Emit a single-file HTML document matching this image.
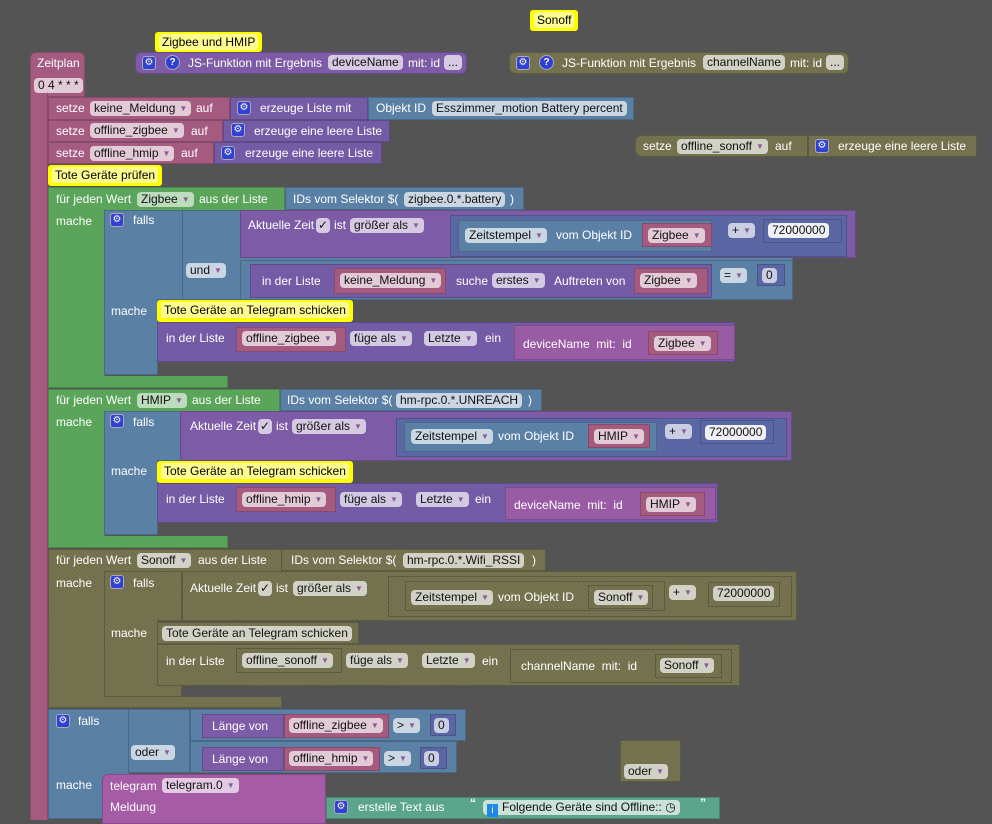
<!DOCTYPE html>
<html><head><meta charset="utf-8">
<style>
body{margin:0;width:992px;height:814px;background:#545454;position:relative;overflow:hidden;font-family:"Liberation Sans",sans-serif}
.b{position:absolute;box-sizing:border-box;border:1px solid rgba(0,0,0,.18)}
.pk{background:#a55b80}.pu{background:#745ba5}.bl{background:#5b80a5}.gr{background:#5ba55b}
.cp{background:#7e5ba6}.mb{background:#5b67a5}.js{background:#9a5ba5}.tg{background:#a55ba5}.te{background:#5ba58c}
.o{background:repeating-linear-gradient(45deg,#6d6c4d 0 1px,#77754f 1px 3px);border:1px solid #5c5b42}
.y{position:absolute;background:#ffff00;border-radius:3px;padding:0 4px;font:12px/20px "Liberation Sans",sans-serif;color:#000;white-space:nowrap}
.y span{background:#fbfb90;padding:1px 3px;border-radius:3px}
.t{position:absolute;color:#fff;font:12px/16px "Liberation Sans",sans-serif;white-space:nowrap}
.p{position:absolute;background:rgba(255,255,255,.68);color:#111;border-radius:4px;font:12px/15px "Liberation Sans",sans-serif;height:15px;padding:0 4px;white-space:nowrap}
.p i{font-style:normal;font-size:8px;color:#8a5a9a;margin-left:4px;vertical-align:1px}
.g{position:absolute;width:14px;height:14px;background:#3040d0;border:1px solid #aab;border-radius:3px;box-sizing:border-box;color:#fff;font:10px/12px "DejaVu Sans",sans-serif;text-align:center}
.q{position:absolute;width:15px;height:15px;background:#3040d0;border:1px solid #aab;border-radius:50%;box-sizing:border-box;color:#fff;font:bold 10px/13px "Liberation Sans",sans-serif;text-align:center}
</style></head><body>

<div class="y" style="left:530px;top:10px;height:21px"><span>Sonoff</span></div>
<div class="y" style="left:155px;top:32px;height:20px"><span>Zigbee und HMIP</span></div>

<div class="b cp" style="left:135px;top:52px;width:332px;height:22px;border-radius:6px"></div>
<div class="g" style="left:142px;top:56px">⚙</div><div class="q" style="left:165px;top:55px">?</div>
<div class="t" style="left:188px;top:55px">JS-Funktion mit Ergebnis</div>
<div class="p" style="left:328px;top:55px">deviceName</div>
<div class="t" style="left:408px;top:55px">mit: id</div>
<div class="p" style="left:444px;top:55px">...</div>

<div class="b o" style="left:509px;top:52px;width:340px;height:22px;border-radius:6px"></div>
<div class="g" style="left:516px;top:56px">⚙</div><div class="q" style="left:539px;top:55px">?</div>
<div class="t" style="left:562px;top:55px">JS-Funktion mit Ergebnis</div>
<div class="p" style="left:703px;top:55px">channelName</div>
<div class="t" style="left:790px;top:55px">mit: id</div>
<div class="p" style="left:826px;top:55px">...</div>

<div class="b pk" style="left:30px;top:52px;width:55px;height:45px;border-radius:6px 6px 0 0"></div>
<div class="b pk" style="left:30px;top:90px;width:18px;height:730px;border-width:0 1px"></div>
<div class="t" style="left:37px;top:55px">Zeitplan</div>
<div class="p" style="left:34px;top:78px">0 4 * * *</div>

<div class="b pk" style="left:48px;top:97px;width:182px;height:23px"></div>
<div class="t" style="left:56px;top:100px">setze</div>
<div class="p" style="left:90px;top:101px">keine_Meldung<i>▼</i></div>
<div class="t" style="left:196px;top:100px">auf</div>
<div class="b pu" style="left:230px;top:97px;width:138px;height:23px"></div>
<div class="g" style="left:237px;top:101px">⚙</div>
<div class="t" style="left:260px;top:100px">erzeuge Liste mit</div>
<div class="b bl" style="left:368px;top:97px;width:266px;height:23px"></div>
<div class="t" style="left:376px;top:100px">Objekt ID</div>
<div class="p" style="left:432px;top:101px">Esszimmer_motion Battery percent</div>

<div class="b pk" style="left:48px;top:120px;width:175px;height:22px"></div>
<div class="t" style="left:56px;top:123px">setze</div>
<div class="p" style="left:90px;top:123px">offline_zigbee<i>▼</i></div>
<div class="t" style="left:191px;top:123px">auf</div>
<div class="b pu" style="left:223px;top:120px;width:167px;height:22px"></div>
<div class="g" style="left:231px;top:123px">⚙</div>
<div class="t" style="left:254px;top:123px">erzeuge eine leere Liste</div>

<div class="b pk" style="left:48px;top:142px;width:166px;height:22px"></div>
<div class="t" style="left:56px;top:145px">setze</div>
<div class="p" style="left:90px;top:146px">offline_hmip<i>▼</i></div>
<div class="t" style="left:181px;top:145px">auf</div>
<div class="b pu" style="left:214px;top:142px;width:168px;height:22px"></div>
<div class="g" style="left:221px;top:146px">⚙</div>
<div class="t" style="left:245px;top:145px">erzeuge eine leere Liste</div>

<div class="b o" style="left:635px;top:135px;width:173px;height:22px;border-radius:6px 0 0 6px"></div>
<div class="t" style="left:643px;top:138px">setze</div>
<div class="p" style="left:677px;top:139px">offline_sonoff<i>▼</i></div>
<div class="t" style="left:775px;top:138px">auf</div>
<div class="b o" style="left:808px;top:135px;width:169px;height:22px"></div>
<div class="g" style="left:815px;top:139px">⚙</div>
<div class="t" style="left:838px;top:138px">erzeuge eine leere Liste</div>

<div class="y" style="left:48px;top:165px;height:21px"><span>Tote Geräte prüfen</span></div>

<!-- for each Zigbee -->
<div class="b gr" style="left:48px;top:187px;width:237px;height:24px"></div>
<div class="b gr" style="left:48px;top:209px;width:57px;height:179px;border-top:0"></div>
<div class="b gr" style="left:48px;top:376px;width:180px;height:12px;border-top:0"></div>
<div class="t" style="left:56px;top:191px">für jeden Wert</div>
<div class="p" style="left:137px;top:192px;background:rgba(255,255,255,.6)">Zigbee<i>▼</i></div>
<div class="t" style="left:199px;top:191px">aus der Liste</div>
<div class="b bl" style="left:285px;top:187px;width:239px;height:23px"></div>
<div class="t" style="left:293px;top:191px">IDs vom Selektor $(</div>
<div class="p" style="left:404px;top:192px">zigbee.0.*.battery</div>
<div class="t" style="left:510px;top:191px">)</div>
<div class="t" style="left:56px;top:213px">mache</div>

<div class="b bl" style="left:104px;top:210px;width:136px;height:90px"></div>
<div class="b bl" style="left:104px;top:299px;width:54px;height:76px;border-top:0"></div>
<div class="g" style="left:110px;top:213px">⚙</div>
<div class="t" style="left:133px;top:212px">falls</div>
<div class="t" style="left:111px;top:303px">mache</div>

<div class="b bl" style="left:182px;top:210px;width:611px;height:90px"></div>
<div class="p" style="left:186px;top:263px">und<i>▼</i></div>
<div class="b cp" style="left:240px;top:210px;width:616px;height:48px"></div>
<div class="t" style="left:248px;top:217px">Aktuelle Zeit</div>
<div class="p" style="left:316px;top:218px;padding:0 2px">✓</div>
<div class="t" style="left:334px;top:217px">ist</div>
<div class="p" style="left:350px;top:218px">größer als<i>▼</i></div>
<div class="b mb" style="left:450px;top:215px;width:397px;height:42px"></div>
<div class="b bl" style="left:458px;top:220px;width:254px;height:32px"></div>
<div class="p" style="left:465px;top:228px">Zeitstempel<i>▼</i></div>
<div class="t" style="left:556px;top:227px">vom Objekt ID</div>
<div class="b pk" style="left:642px;top:223px;width:70px;height:24px"></div>
<div class="p" style="left:648px;top:228px">Zigbee<i>▼</i></div>
<div class="p" style="left:728px;top:223px">+<i>▼</i></div>
<div class="b mb" style="left:763px;top:219px;width:79px;height:24px"></div>
<div class="p" style="left:768px;top:223px;background:rgba(255,255,255,.9)">72000000</div>

<div class="b bl" style="left:240px;top:260px;width:553px;height:40px"></div>
<div class="b pu" style="left:250px;top:264px;width:462px;height:34px"></div>
<div class="t" style="left:262px;top:273px">in der Liste</div>
<div class="b pk" style="left:334px;top:268px;width:112px;height:26px"></div>
<div class="p" style="left:340px;top:273px">keine_Meldung<i>▼</i></div>
<div class="t" style="left:456px;top:273px">suche</div>
<div class="p" style="left:492px;top:273px">erstes<i>▼</i></div>
<div class="t" style="left:554px;top:273px">Auftreten von</div>
<div class="b pk" style="left:634px;top:268px;width:74px;height:26px"></div>
<div class="p" style="left:640px;top:273px">Zigbee<i>▼</i></div>
<div class="p" style="left:720px;top:268px">=<i>▼</i></div>
<div class="b mb" style="left:757px;top:264px;width:28px;height:22px"></div>
<div class="p" style="left:762px;top:268px">0</div>

<div class="y" style="left:157px;top:300px;height:22px"><span>Tote Geräte an Telegram schicken</span></div>
<div class="b pu" style="left:157px;top:322px;width:578px;height:40px"></div>
<div class="t" style="left:166px;top:330px">in der Liste</div>
<div class="b pk" style="left:236px;top:327px;width:110px;height:25px"></div>
<div class="p" style="left:242px;top:331px">offline_zigbee<i>▼</i></div>
<div class="p" style="left:350px;top:331px">füge als<i>▼</i></div>
<div class="p" style="left:424px;top:331px">Letzte<i>▼</i></div>
<div class="t" style="left:485px;top:330px">ein</div>
<div class="b js" style="left:514px;top:325px;width:221px;height:35px"></div>
<div class="t" style="left:523px;top:336px">deviceName &nbsp;mit: &nbsp;id</div>
<div class="b pk" style="left:648px;top:331px;width:70px;height:24px"></div>
<div class="p" style="left:654px;top:336px">Zigbee<i>▼</i></div>

<!-- for each HMIP -->
<div class="b gr" style="left:48px;top:389px;width:232px;height:23px"></div>
<div class="b gr" style="left:48px;top:411px;width:57px;height:137px;border-top:0"></div>
<div class="b gr" style="left:48px;top:536px;width:180px;height:12px;border-top:0"></div>
<div class="t" style="left:56px;top:392px">für jeden Wert</div>
<div class="p" style="left:137px;top:393px;background:rgba(255,255,255,.6)">HMIP<i>▼</i></div>
<div class="t" style="left:192px;top:392px">aus der Liste</div>
<div class="b bl" style="left:280px;top:389px;width:262px;height:22px"></div>
<div class="t" style="left:287px;top:392px">IDs vom Selektor $(</div>
<div class="p" style="left:396px;top:393px">hm-rpc.0.*.UNREACH</div>
<div class="t" style="left:528px;top:392px">)</div>
<div class="t" style="left:56px;top:414px">mache</div>

<div class="b bl" style="left:104px;top:411px;width:78px;height:50px"></div>
<div class="b bl" style="left:104px;top:460px;width:54px;height:75px;border-top:0"></div>
<div class="g" style="left:110px;top:414px">⚙</div>
<div class="t" style="left:133px;top:414px">falls</div>
<div class="t" style="left:111px;top:463px">mache</div>
<div class="b cp" style="left:180px;top:411px;width:612px;height:50px"></div>
<div class="t" style="left:190px;top:418px">Aktuelle Zeit</div>
<div class="p" style="left:258px;top:419px;padding:0 2px">✓</div>
<div class="t" style="left:276px;top:418px">ist</div>
<div class="p" style="left:292px;top:419px">größer als<i>▼</i></div>
<div class="b mb" style="left:396px;top:418px;width:391px;height:39px"></div>
<div class="b bl" style="left:404px;top:422px;width:253px;height:30px"></div>
<div class="p" style="left:411px;top:429px">Zeitstempel<i>▼</i></div>
<div class="t" style="left:498px;top:428px">vom Objekt ID</div>
<div class="b pk" style="left:588px;top:424px;width:62px;height:24px"></div>
<div class="p" style="left:594px;top:429px">HMIP<i>▼</i></div>
<div class="p" style="left:665px;top:424px">+<i>▼</i></div>
<div class="b mb" style="left:700px;top:420px;width:74px;height:24px"></div>
<div class="p" style="left:705px;top:425px;background:rgba(255,255,255,.9)">72000000</div>

<div class="y" style="left:157px;top:461px;height:22px"><span>Tote Geräte an Telegram schicken</span></div>
<div class="b pu" style="left:157px;top:483px;width:561px;height:40px"></div>
<div class="t" style="left:166px;top:491px">in der Liste</div>
<div class="b pk" style="left:236px;top:487px;width:100px;height:25px"></div>
<div class="p" style="left:242px;top:492px">offline_hmip<i>▼</i></div>
<div class="p" style="left:340px;top:492px">füge als<i>▼</i></div>
<div class="p" style="left:416px;top:492px">Letzte<i>▼</i></div>
<div class="t" style="left:475px;top:491px">ein</div>
<div class="b js" style="left:505px;top:487px;width:211px;height:33px"></div>
<div class="t" style="left:514px;top:497px">deviceName &nbsp;mit: &nbsp;id</div>
<div class="b pk" style="left:640px;top:492px;width:65px;height:24px"></div>
<div class="p" style="left:646px;top:497px">HMIP<i>▼</i></div>

<!-- for each Sonoff (disabled) -->
<div class="b o" style="left:48px;top:549px;width:234px;height:23px"></div>
<div class="b o" style="left:48px;top:571px;width:57px;height:137px;border-top:0"></div>
<div class="b o" style="left:48px;top:697px;width:234px;height:11px;border-top:0"></div>
<div class="t" style="left:56px;top:552px">für jeden Wert</div>
<div class="p" style="left:137px;top:553px">Sonoff<i>▼</i></div>
<div class="t" style="left:198px;top:552px">aus der Liste</div>
<div class="b o" style="left:281px;top:549px;width:265px;height:22px"></div>
<div class="t" style="left:291px;top:552px">IDs vom Selektor $(</div>
<div class="p" style="left:403px;top:553px">hm-rpc.0.*.Wifi_RSSI</div>
<div class="t" style="left:532px;top:552px">)</div>
<div class="t" style="left:56px;top:575px">mache</div>

<div class="b o" style="left:104px;top:571px;width:78px;height:50px"></div>
<div class="b o" style="left:104px;top:620px;width:54px;height:77px;border-top:0"></div>
<div class="b o" style="left:104px;top:686px;width:78px;height:11px;border-top:0"></div>
<div class="g" style="left:110px;top:575px">⚙</div>
<div class="t" style="left:133px;top:575px">falls</div>
<div class="t" style="left:111px;top:625px">mache</div>
<div class="b o" style="left:182px;top:571px;width:615px;height:50px"></div>
<div class="t" style="left:190px;top:580px">Aktuelle Zeit</div>
<div class="p" style="left:258px;top:581px;padding:0 2px">✓</div>
<div class="t" style="left:276px;top:580px">ist</div>
<div class="p" style="left:293px;top:581px">größer als<i>▼</i></div>
<div class="b o" style="left:388px;top:576px;width:404px;height:41px"></div>
<div class="b o" style="left:405px;top:581px;width:260px;height:30px"></div>
<div class="p" style="left:411px;top:590px">Zeitstempel<i>▼</i></div>
<div class="t" style="left:498px;top:589px">vom Objekt ID</div>
<div class="b o" style="left:588px;top:585px;width:65px;height:24px"></div>
<div class="p" style="left:594px;top:590px">Sonoff<i>▼</i></div>
<div class="p" style="left:669px;top:585px">+<i>▼</i></div>
<div class="b o" style="left:708px;top:582px;width:72px;height:25px"></div>
<div class="p" style="left:713px;top:586px">72000000</div>

<div class="b o" style="left:157px;top:622px;width:202px;height:22px"></div>
<div class="p" style="left:162px;top:626px">Tote Geräte an Telegram schicken</div>
<div class="b o" style="left:157px;top:644px;width:583px;height:42px"></div>
<div class="t" style="left:166px;top:653px">in der Liste</div>
<div class="b o" style="left:236px;top:648px;width:106px;height:25px"></div>
<div class="p" style="left:242px;top:653px">offline_sonoff<i>▼</i></div>
<div class="p" style="left:346px;top:653px">füge als<i>▼</i></div>
<div class="p" style="left:422px;top:653px">Letzte<i>▼</i></div>
<div class="t" style="left:482px;top:653px">ein</div>
<div class="b o" style="left:510px;top:649px;width:222px;height:34px"></div>
<div class="t" style="left:521px;top:658px">channelName &nbsp;mit: &nbsp;id</div>
<div class="b o" style="left:655px;top:654px;width:67px;height:24px"></div>
<div class="p" style="left:660px;top:658px">Sonoff<i>▼</i></div>

<!-- bottom falls -->
<div class="b bl" style="left:48px;top:709px;width:82px;height:110px"></div>
<div class="b bl" style="left:128px;top:709px;width:62px;height:64px"></div>
<div class="g" style="left:56px;top:714px">⚙</div>
<div class="t" style="left:78px;top:713px">falls</div>
<div class="t" style="left:56px;top:777px">mache</div>
<div class="p" style="left:131px;top:745px">oder<i>▼</i></div>
<div class="b bl" style="left:190px;top:709px;width:276px;height:32px"></div>
<div class="b cp" style="left:202px;top:714px;width:82px;height:24px"></div>
<div class="t" style="left:212px;top:718px">Länge von</div>
<div class="b pk" style="left:284px;top:714px;width:105px;height:24px"></div>
<div class="p" style="left:289px;top:718px">offline_zigbee<i>▼</i></div>
<div class="p" style="left:393px;top:718px">&gt;<i>▼</i></div>
<div class="b mb" style="left:430px;top:714px;width:26px;height:22px"></div>
<div class="p" style="left:434px;top:718px">0</div>
<div class="b bl" style="left:190px;top:741px;width:267px;height:32px"></div>
<div class="b cp" style="left:202px;top:747px;width:82px;height:24px"></div>
<div class="t" style="left:212px;top:751px">Länge von</div>
<div class="b pk" style="left:284px;top:747px;width:96px;height:24px"></div>
<div class="p" style="left:289px;top:751px">offline_hmip<i>▼</i></div>
<div class="p" style="left:384px;top:751px">&gt;<i>▼</i></div>
<div class="b mb" style="left:420px;top:747px;width:27px;height:22px"></div>
<div class="p" style="left:424px;top:751px">0</div>

<div class="b tg" style="left:102px;top:774px;width:224px;height:50px;border-radius:6px 0 0 0"></div>
<div class="t" style="left:110px;top:778px">telegram</div>
<div class="p" style="left:162px;top:778px">telegram.0<i>▼</i></div>
<div class="t" style="left:110px;top:799px">Meldung</div>
<div class="b te" style="left:326px;top:797px;width:394px;height:22px"></div>
<div class="g" style="left:334px;top:800px">⚙</div>
<div class="t" style="left:358px;top:799px">erstelle Text aus</div>
<div class="t" style="left:470px;top:795px;font-weight:bold">“</div>
<div class="p" style="left:483px;top:800px"><span style="display:inline-block;width:11px;height:13px;background:#1e88e5;color:#fff;font-size:10px;text-align:center;line-height:13px;vertical-align:-2px;margin-right:4px">i</span>Folgende Geräte sind Offline:: ◷</div>
<div class="t" style="left:700px;top:795px;font-weight:bold">”</div>

<div class="b o" style="left:620px;top:740px;width:61px;height:42px"></div>
<div class="p" style="left:624px;top:764px">oder<i>▼</i></div>
</body></html>
